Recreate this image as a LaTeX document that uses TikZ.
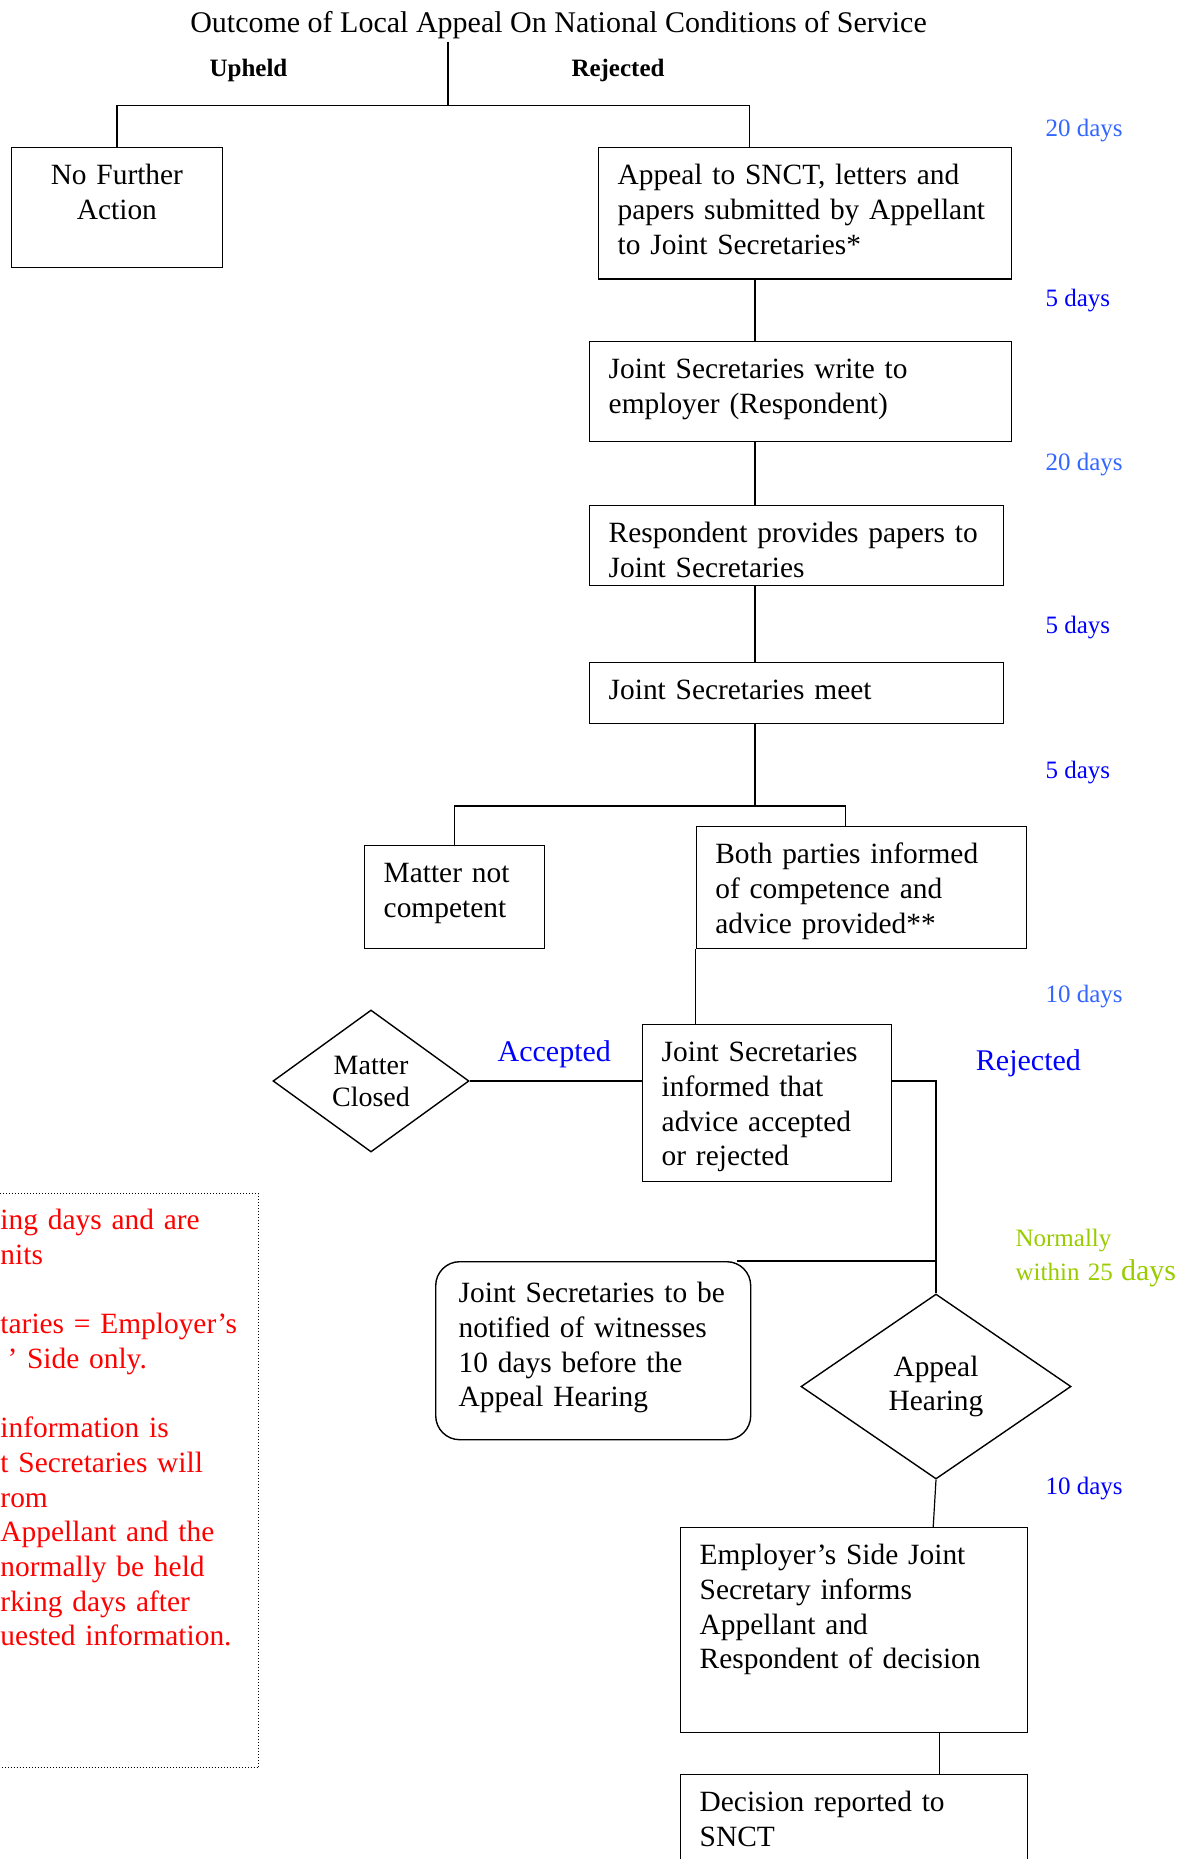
\documentclass[tikz,border=0pt]{standalone}
\usepackage{fontspec}
\setmainfont{Liberation Serif}
\usetikzlibrary{shapes.geometric}

\definecolor{dayblue}{HTML}{3366FF}
\definecolor{fiveblue}{HTML}{0000FF}
\definecolor{normgreen}{HTML}{99CC00}
\definecolor{notered}{HTML}{FF0000}

\hyphenpenalty=10000
\exhyphenpenalty=10000

\begin{document}
\begin{tikzpicture}[x=1pt, y=-1pt, line width=1.2pt,
    txt/.style={font=\fontsize{29.4}{34.7}\selectfont},
    box/.style={draw, line width=1.4pt, anchor=north west, align=left, inner xsep=19pt, inner ysep=0pt, text height=37pt, txt},
    decide/.style={draw, diamond, line width=1.4pt, inner sep=0pt, align=center, txt},
    days/.style={anchor=base west, inner sep=0pt, font=\fontsize{25}{29}\selectfont, text=dayblue},
    branch/.style={anchor=base, font=\bfseries\fontsize{25}{29}\selectfont}]
    \useasboundingbox (0,0) rectangle (1185,1859);

    \node[anchor=base, inner sep=2pt, font=\fontsize{30}{34.7}\selectfont] (title) at (558.5,33) {Outcome of Local Appeal On National Conditions of Service};
    \node[branch] (upheld) at (248.5,77) {Upheld};
    \node[branch] (rejected) at (618,77) {Rejected};

    \node[box, align=center, inner xsep=10pt, text width=191pt, text depth=83pt] (nfa) at (10.7,147) {No Further\\Action};
    \node[box, inner xsep=19pt, text width=375pt, text depth=94.5pt] (app) at (598,147) {Appeal to SNCT, letters and\\papers submitted by Appellant\\to Joint Secretaries*};
    \node[box, inner xsep=19pt, text width=384pt, text depth=63pt] (jsw) at (589,341) {Joint Secretaries write to\\employer (Respondent)};
    \node[box, inner xsep=19pt, text width=375.5pt, text depth=43pt] (resp) at (589,505) {Respondent provides papers to\\Joint Secretaries};
    \node[box, inner xsep=19pt, text width=375.5pt, text depth=24pt] (jsm) at (589,662) {Joint Secretaries meet};
    \node[box, text width=142pt, text depth=66pt] (mnc) at (364,845) {Matter not\\competent};
    \node[box, text width=292.4pt, text depth=85pt] (both) at (695.6,826) {Both parties informed\\of competence and\\advice provided**};
    \node[box, text width=211pt, text depth=120pt] (jsi) at (642,1024) {Joint Secretaries\\informed that\\advice accepted\\or rejected};
    \node[box, rounded corners=24pt, inner xsep=23pt, text height=41pt, text width=269pt, text depth=137pt] (notify) at (435,1261) {Joint Secretaries to be\\notified of witnesses\\10 days before the\\Appeal Hearing};
    \node[box, text width=309pt, text depth=168pt] (esj) at (680,1527) {Employer’s Side Joint\\Secretary informs\\Appellant and\\Respondent of decision};
    \node[box, text width=309pt, text depth=83pt] (dec) at (680,1774) {Decision reported to\\SNCT};

    \node[decide, minimum width=196pt, minimum height=142pt, font=\fontsize{28}{32}\selectfont] (closed) at (371,1081) {Matter\\Closed};
    \node[decide, minimum width=270pt, minimum height=185pt] (hearing) at (936,1386.5) {Appeal\\Hearing};

    \node[anchor=base, font=\fontsize{30}{34.7}\selectfont, text=fiveblue] (accepted) at (554.3,1061) {Accepted};
    \node[anchor=base, font=\fontsize{30}{34.7}\selectfont, text=fiveblue] (rejectedb) at (1028.4,1070) {Rejected};

    \node[days] (d1) at (1045,136.7) {20 days};
    \node[days, text=fiveblue] (d2) at (1045,306.8) {5 days};
    \node[days] (d3) at (1045,470) {20 days};
    \node[days, text=fiveblue] (d4) at (1045,633) {5 days};
    \node[days, text=fiveblue] (d5) at (1045,778) {5 days};
    \node[days] (d6) at (1045,1002) {10 days};
    \node[days, text=fiveblue] (d7) at (1045,1494) {10 days};
    \node[anchor=base west, inner sep=0pt, align=left, text width=175pt, font=\fontsize{25}{34}\selectfont, text=normgreen] (normally) at (1015,1246) {Normally\\within 25 {\fontsize{30}{34}\selectfont days}};

    \node[draw, dotted, line width=1pt, anchor=north west, inner xsep=8pt, inner ysep=0pt, text width=250pt, text height=36pt, text depth=538pt, align=left, txt, text=notered] (note) at (-8,1193) {ing days and are\\nits\\[34.7pt]taries = Employer’s\\\hspace*{7pt}’ Side only.\\[34.7pt]information is\\t Secretaries will\\rom\\Appellant and the\\normally be held\\rking days after\\uested information.};

    \coordinate (split) at (448,105.5);
    \coordinate (spine) at (755,0);
    \coordinate (fork) at (755,806);

    \draw (title.south -| split) -- (split);
    \draw (nfa.north) |- (split) -| ([xshift=-55.5pt]app.north);
    \draw (app.south -| spine) -- (jsw.north -| spine);
    \draw (jsw.south -| spine) -- (resp.north -| spine);
    \draw (resp.south -| spine) -- (jsm.north -| spine);
    \draw (jsm.south -| spine) -- (fork);
    \draw (mnc.north) |- (fork) -| ([xshift=-16pt]both.north);
    \draw (both.south west) -- (both.south west |- jsi.north);
    \draw (closed.east) -- (closed.east -| jsi.west);
    \draw (closed.east -| jsi.east) -| (hearing.north);
    \draw (hearing.north |- notify.north) -- ([xshift=-14pt]notify.north east);
    \draw (hearing.south) -- ([xshift=79pt]esj.north);
    \draw ([xshift=85pt]esj.south) -- ([xshift=85pt]dec.north);
\end{tikzpicture}
\end{document}
